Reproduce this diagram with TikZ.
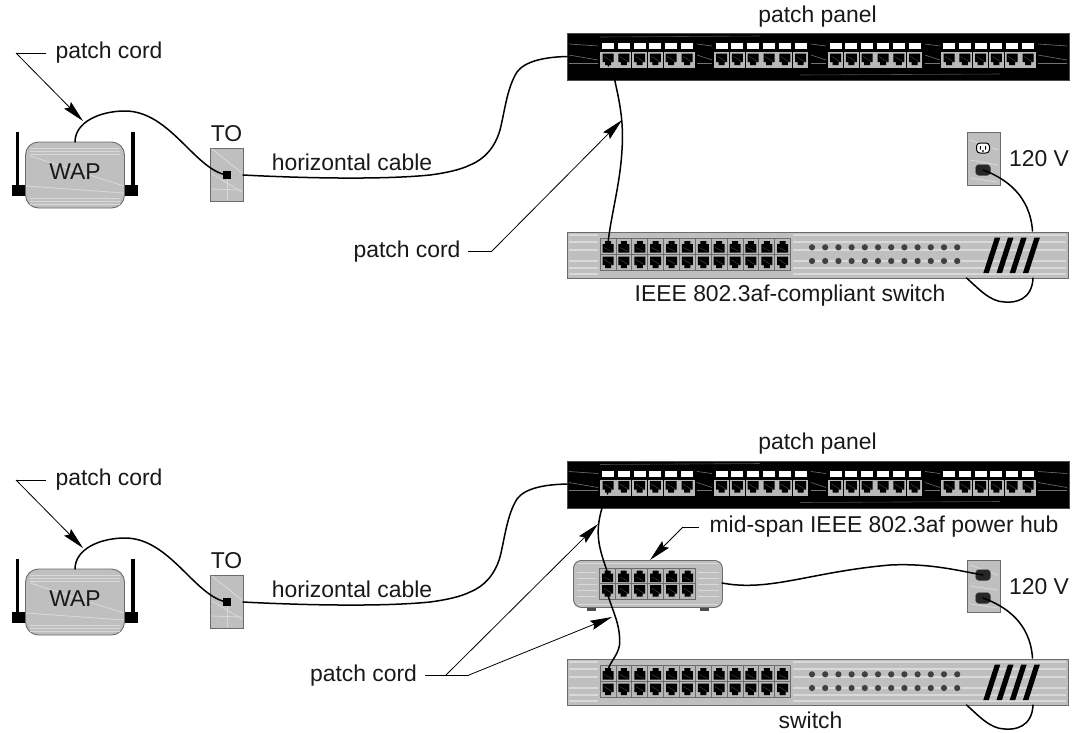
\documentclass[tikz,border=0pt]{standalone}
\usepackage{fontspec}
\setmainfont{Liberation Sans}
\usetikzlibrary{arrows.meta}
\definecolor{plate}{gray}{0.75}
\definecolor{grain}{gray}{0.85}
\definecolor{edge}{gray}{0.42}
\definecolor{portgray}{gray}{0.72}
\tikzset{
  x=1pt,y=-1pt,
  lbl/.style={font=\fontsize{22.9}{26}\selectfont,inner sep=0pt,text=black!90},
  cable/.style={draw=black,line width=1.5pt,line cap=round},
  leader/.style={draw=black,line width=0.8pt},
  pointer/.style={leader,-{Stealth[length=22pt,width=9.5pt,inset=3pt]}},
  box/.style={rectangle,inner sep=0pt,anchor=north west,fill=plate,draw=edge,line width=0.9pt},
  panelbox/.style={box,fill=black,draw=black!70},
  waplbl/.style={lbl,rectangle,rounded corners=13pt,fill=plate,draw=edge,line width=0.9pt,anchor=center},
  plug/.style={rectangle,rounded corners=3.5pt,fill=black!85,draw=black!60,minimum width=15pt,minimum height=11pt,inner sep=0pt},
  streak/.style={draw=grain,line width=0.8pt},
  band/.style={draw=grain,line width=1.8pt},
  darkstreak/.style={draw=black!55,line width=0.6pt},
  jackline/.style={draw=black!70,line width=0.4pt},
}
\newcommand{\rjdown}[2]{%
  \fill[black] (#1-5.5,#2-6) -- (#1+5.5,#2-6) -- (#1+5.5,#2+2.5) -- (#1+3,#2+2.5) -- (#1+3,#2+5.5) -- (#1-3,#2+5.5) -- (#1-3,#2+2.5) -- (#1-5.5,#2+2.5) -- cycle;
  \draw[jackline] (#1-4,#2-3) -- (#1+4,#2+2);}
\newcommand{\rjup}[2]{%
  \fill[black] (#1-5.5,#2+6) -- (#1+5.5,#2+6) -- (#1+5.5,#2-2.5) -- (#1+3,#2-2.5) -- (#1+3,#2-5.5) -- (#1-3,#2-5.5) -- (#1-3,#2-2.5) -- (#1-5.5,#2-2.5) -- cycle;
  \draw[jackline] (#1-4,#2+1) -- (#1+4,#2+5);}
\newcommand{\panelbody}[2]{% #1 name, #2 top y
  \node[panelbox,minimum width=502pt,minimum height=47pt] (#1) at (567,#2) {};
  \foreach \gx in {600,713.6,827.6,941}{
    \foreach \i in {0,...,5}{
      \pgfmathsetmacro{\px}{\gx+15.8*\i}
      \fill[white] (\px+2,#2+10.3) rectangle (\px+14,#2+16.3);
      \fill[portgray] (\px+0.3,#2+19) rectangle (\px+15.6,#2+35);
      \rjdown{\px+8}{#2+26.5}
    }
  }
  \foreach \a/\b in {569/598,697/712,811/826,925/940,1038/1067}{
    \draw[darkstreak] (\a,#2+11) -- (\b,#2+13);
    \draw[darkstreak] (\a,#2+22) -- (\b,#2+27);
    \draw[darkstreak] (\a,#2+30) -- (\b,#2+30);
  }
  \draw[draw=black!70,line width=0.6pt] (600,#2+4) -- (760,#2+3);
  \draw[draw=black!70,line width=0.6pt] (800,#2+42) -- (1000,#2+41);
}
\newcommand{\switchbody}[2]{% #1 name, #2 top y
  \node[box,minimum width=501pt,minimum height=45.5pt] (#1) at (567,#2) {};
  \foreach \dy in {3,10,18,29,36,42}{
    \draw[band] (569,#2+\dy) -- (598,#2+\dy);
    \draw[band] (793,#2+\dy) -- (1066,#2+\dy);
  }
  \fill[portgray,draw=edge,line width=0.7pt] (600,#2+6.5) rectangle (790.6,#2+38.5);
  \draw[edge,line width=0.7pt] (600,#2+22.5) -- (790.6,#2+22.5);
  \foreach \i in {0,...,11}{
    \pgfmathsetmacro{\px}{600+15.88*\i}
    \ifnum\i>0 \draw[edge,line width=0.7pt] (\px,#2+6.5) -- (\px,#2+38.5);\fi
    \rjup{\px+8}{#2+14.5}
    \rjdown{\px+8}{#2+30.5}
    \pgfmathsetmacro{\dx}{812+13.2*\i}
    \fill[black!75] (\dx,#2+15.3) circle (3.1pt);
    \fill[black!75] (\dx,#2+29) circle (3.1pt);
  }
  \foreach \i in {0,...,3}{
    \pgfmathsetmacro{\sx}{983.3+13.2*\i}
    \fill[black] (\sx,#2+41) -- (\sx+5.5,#2+41) -- (\sx+17,#2+5.5) -- (\sx+11.5,#2+5.5) -- cycle;
  }
}
\newcommand{\wapbody}[2]{% #1 suffix, #2 top y
  \fill[black] (15.8,#2-10) rectangle (19.4,#2+44);
  \fill[black] (131,#2-10) rectangle (134.9,#2+44);
  \fill[black] (12,#2+43) rectangle (26,#2+54);
  \fill[black] (124,#2+43) rectangle (138,#2+54);
  \node[waplbl,minimum width=99pt,minimum height=66pt] (wap#1) at (75,#2+33) {};
  \foreach \dy in {6,9,12,56,59,62}{\draw[streak] (30,#2+\dy) -- (120,#2+\dy);}
  \draw[streak] (26,#2+44) -- (124,#2+51);
  \draw[streak] (30,#2+14) -- (124,#2+44);
  \node[lbl] at (75,#2+30) {WAP};
}
\newcommand{\tobody}[2]{% #1 suffix, #2 top y
  \node[box,minimum width=33pt,minimum height=53pt] (plate#1) at (210,#2) {};
  \draw[streak] (212,#2+1) -- (242,#2+25);
  \draw[streak] (212,#2+26) -- (242,#2+44);
  \draw[streak] (211,#2+41) -- (242,#2+42);
  \draw[streak] (227,#2+30) -- (227,#2+52);
  \node[rectangle,fill=black,inner sep=0pt,minimum width=8pt,minimum height=7.5pt] (jack#1) at (227,#2+27) {};
}
\begin{document}
\begin{tikzpicture}
\useasboundingbox (0,0) rectangle (1073,732);
\fill[white] (0,0) rectangle (1073,732);

% ===== upper system =====
\wapbody{A}{142}
\tobody{A}{148}
\panelbody{panelA}{33}
\switchbody{switchA}{232}
\node[box,minimum width=33pt,minimum height=53pt] (powerA) at (966.5,132) {};
\draw[streak] (970,140) -- (998,150);
\draw[streak] (970,160) -- (998,165);
\draw[streak] (970,178) -- (998,182);
\node[rectangle,rounded corners=3.5pt,fill=white,draw=black,line width=1pt,minimum width=13pt,minimum height=10pt,inner sep=0pt] (outletA) at (983,148) {};
\fill[black] (979.8,146) rectangle (980.8,149.5) (985.2,146) rectangle (986.2,149.5) (982.3,150) rectangle (983.7,152);
\node[plug] (plugA) at (983,170) {};

\coordinate (wA) at (75,142);
\coordinate (panelinA) at (567,56.5);
\coordinate (portoutA) at (614.5,79);
\coordinate (swinA) at (608,243);
\coordinate (pwrtopA) at (1032.5,231);
\coordinate (pwrbotA) at (1033,278);
\coordinate (pwrbot2A) at (966.5,278);
\coordinate (plateoutA) at (243,175);

\draw[cable] (wA) .. controls (75,122) and (100,111) .. (125,111)
  .. controls (170,111) and (195,170) .. (jackA.center);
\draw[cable] (plateoutA) .. controls (300,178) and (380,180) .. (430,175)
  .. controls (445,173) and (460,170) .. (470,165)
  .. controls (485,159) and (495,147) .. (500,130)
  .. controls (505,110) and (507,88) .. (517,72)
  .. controls (525,61) and (545,57) .. (panelinA);
\draw[cable] (608,60) -- (608.5,66);
\draw[cable] (portoutA) .. controls (619,100) and (624,120) .. (622,150)
  .. controls (620,185) and (611,215) .. (swinA);
\draw[cable] (plugA.center) .. controls (1005,178) and (1030,195) .. (pwrtopA);
\draw[cable] (pwrbotA) .. controls (1032,300) and (1015,303) .. (1005,302)
  .. controls (990,302) and (978,288) .. (pwrbot2A);

\node[lbl] (pcA) at (109,53) {patch cord};
\node[lbl] (toA) at (226.5,134) {TO};
\node[lbl] (hcA) at (352,162) {horizontal cable};
\node[lbl] (ppA) at (817.5,17) {patch panel};
\node[lbl] (pc2A) at (407,252) {patch cord};
\node[lbl] (swlA) at (790,296) {IEEE 802.3af-compliant switch};
\node[lbl] (vA) at (1039,159) {120 V};

\coordinate (eA) at (16,53);
\coordinate (tipA) at (83,121);
\coordinate (e2A) at (492,251);
\coordinate (tip2A) at (622,120);
\draw[leader] (46,53) -- (eA);
\draw[pointer] (eA) -- (tipA);
\draw[leader] (468,251) -- (e2A);
\draw[pointer] (e2A) -- (tip2A);

% ===== lower system =====
\wapbody{B}{569}
\tobody{B}{575}
\panelbody{panelB}{460.5}
\switchbody{switchB}{659}
\node[box,minimum width=149pt,minimum height=47pt,rounded corners=8pt] (hub) at (573,560) {};
\foreach \dy in {12,18,24,30,36}{
  \draw[streak] (577,560+\dy) -- (597,560+\dy);
  \draw[streak] (698,560+\dy) -- (719,560+\dy);
}
\draw[streak] (578,563) -- (718,563);
\draw[streak] (578,604) -- (718,604);
\fill[black!70] (587,607.5) rectangle (596,611);
\fill[black!70] (700,607.5) rectangle (709,611);
\fill[portgray,draw=edge,line width=0.7pt] (599.5,568) rectangle (695.5,599);
\draw[edge,line width=0.7pt] (599.5,583.5) -- (695.5,583.5);
\foreach \i in {0,...,5}{
  \pgfmathsetmacro{\px}{599.5+16*\i}
  \ifnum\i>0 \draw[edge,line width=0.7pt] (\px,568) -- (\px,599);\fi
  \rjup{\px+8}{576}
  \rjdown{\px+8}{591}
}
\node[box,minimum width=33pt,minimum height=52pt] (powerB) at (966.5,560) {};
\draw[streak] (970,565) -- (998,575);
\draw[streak] (970,586) -- (998,590);
\draw[streak] (970,604) -- (998,608);
\node[plug] (plugB1) at (983,575) {};
\node[plug] (plugB2) at (983,598) {};

\coordinate (wB) at (75,569);
\coordinate (panelinB) at (567,484);
\coordinate (portoutB) at (602,508);
\coordinate (hubinB) at (607,571);
\coordinate (huboutB) at (608,595);
\coordinate (swinB) at (608,670);
\coordinate (hubpwr) at (722,583);
\coordinate (pwrtopB) at (1032.5,658);
\coordinate (pwrbotB) at (1033,705);
\coordinate (pwrbot2B) at (966.5,705);
\coordinate (plateoutB) at (243,602);

\draw[cable] (wB) .. controls (75,549) and (100,538) .. (125,538)
  .. controls (170,538) and (195,597) .. (jackB.center);
\draw[cable] (plateoutB) .. controls (300,605) and (380,607) .. (430,602)
  .. controls (445,600) and (460,597) .. (470,592)
  .. controls (485,586) and (495,574) .. (500,557)
  .. controls (505,537) and (507,515) .. (517,499)
  .. controls (525,488) and (545,484.5) .. (panelinB);
\draw[cable] (608,488) -- (607.5,494);
\draw[cable] (portoutB) .. controls (594,535) and (600,550) .. (hubinB);
\draw[cable] (huboutB) .. controls (612,610) and (621,625) .. (619.5,645)
  .. controls (618,655) and (610,662) .. (swinB);
\draw[cable] (hubpwr) .. controls (770,592) and (810,572) .. (890,565)
  .. controls (930,563) and (960,571) .. (plugB1.center);
\draw[cable] (plugB2.center) .. controls (1005,606) and (1030,622) .. (pwrtopB);
\draw[cable] (pwrbotB) .. controls (1032,727) and (1015,730) .. (1005,729)
  .. controls (990,729) and (978,715) .. (pwrbot2B);

\node[lbl] (pcB) at (109,480) {patch cord};
\node[lbl] (toB) at (226.5,561) {TO};
\node[lbl] (hcB) at (352,589) {horizontal cable};
\node[lbl] (ppB) at (817.5,444) {patch panel};
\node[lbl] (pc2B) at (363.5,675.5) {patch cord};
\node[lbl] (swlB) at (810.5,720) {switch};
\node[lbl] (vB) at (1039,587) {120 V};
\node[lbl] (mid) at (884,527) {mid-span IEEE 802.3af power hub};

\coordinate (eB) at (16,480);
\coordinate (tipB) at (83,548);
\coordinate (e2B) at (446,675);
\coordinate (e2Bb) at (469,675);
\coordinate (tip2B) at (598,524);
\coordinate (tip3B) at (612,617);
\coordinate (e3B) at (683,527);
\coordinate (tip4B) at (650,560);
\draw[leader] (46,480) -- (eB);
\draw[pointer] (eB) -- (tipB);
\draw[leader] (425,675) -- (e2Bb);
\draw[pointer] (e2B) -- (tip2B);
\draw[pointer] (e2Bb) -- (tip3B);
\draw[leader] (699,527) -- (e3B);
\draw[pointer] (e3B) -- (tip4B);
\end{tikzpicture}
\end{document}
